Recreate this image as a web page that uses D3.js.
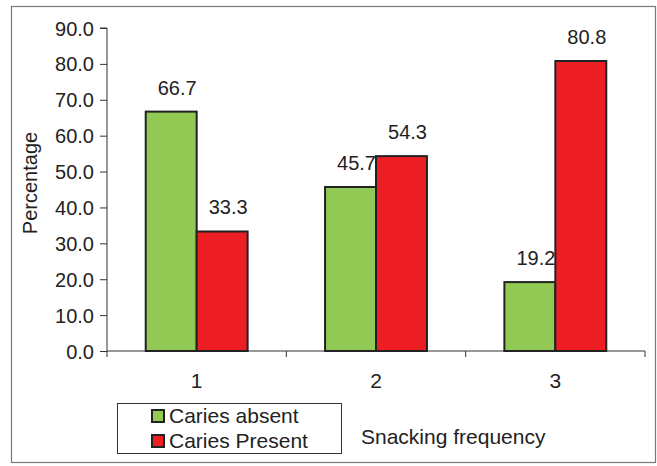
<!DOCTYPE html>
<html>
<head>
<meta charset="utf-8">
<script src="https://cdn.jsdelivr.net/npm/d3@7"></script>
<style>
  html, body { margin: 0; padding: 0; background: #fff; }
  svg { display: block; font-family: "Liberation Sans", Arial, sans-serif; }
</style>
</head>
<body>
<svg id="chart" width="657" height="466"></svg>
<script>
// Snacking frequency vs. caries status (percent of children)
const categories = ["1", "2", "3"];
const seriesNames = ["Caries absent", "Caries Present"];
const cariesAbsent = [66.7, 45.7, 19.2];
const cariesPresent = [33.3, 54.3, 80.8];
const yTicks = [0, 10, 20, 30, 40, 50, 60, 70, 80, 90];
const seriesColors = ["#92c955", "#ed1f24"];

const rows = categories.map((c, i) => ({
  cat: c,
  values: [cariesAbsent[i], cariesPresent[i]]
}));

const svg = d3.select("#chart");
const plot = { left: 107, right: 645, top: 28, bottom: 351 };

// Outer frame
svg.append("rect")
  .attr("x", 11.5).attr("y", 6.5)
  .attr("width", 644).attr("height", 456)
  .attr("fill", "none").attr("stroke", "#777").attr("stroke-width", 1.2);

const x0 = d3.scaleBand().domain(categories).range([plot.left, plot.right]).padding(0);
const x1 = d3.scaleBand().domain(d3.range(seriesNames.length))
  .range([0, x0.bandwidth()]).paddingInner(0).paddingOuter(0.76);
const y = d3.scaleLinear().domain([0, 90]).range([plot.bottom, plot.top]);

// Y axis
const yAxis = svg.append("g")
  .attr("transform", `translate(${plot.left},0)`)
  .call(d3.axisLeft(y).tickValues(yTicks).tickFormat(d3.format(".1f")).tickSize(7).tickPadding(6));
yAxis.select(".domain").attr("stroke", "#333").attr("d", `M-7,${y(90)}H0V${y(0)}`);
yAxis.selectAll(".tick line").attr("stroke", "#333");
yAxis.selectAll(".tick text")
  .attr("fill", "#222").style("font-size", "20px").attr("dy", "0.35em");

// X axis: band boundaries carry the ticks
const xAxis = svg.append("g").attr("transform", `translate(0,${plot.bottom})`);
xAxis.append("line")
  .attr("x1", plot.left).attr("x2", plot.right)
  .attr("stroke", "#333");
const bounds = categories.map(c => x0(c)).concat([x0(categories[categories.length - 1]) + x0.bandwidth()]);
xAxis.selectAll("line.tk").data(bounds).join("line")
  .attr("class", "tk")
  .attr("x1", d => d).attr("x2", d => d)
  .attr("y1", 0).attr("y2", 6)
  .attr("stroke", "#333");
xAxis.selectAll("text").data(categories).join("text")
  .attr("x", d => x0(d) + x0.bandwidth() / 2)
  .attr("y", 37)
  .attr("text-anchor", "middle")
  .attr("fill", "#222")
  .style("font-size", "21px")
  .text(d => d);

// Bars
const groups = svg.append("g").selectAll("g").data(rows).join("g")
  .attr("transform", d => `translate(${x0(d.cat)},0)`);
groups.selectAll("rect").data(d => d.values.map((v, i) => ({ v, i }))).join("rect")
  .attr("x", d => x1(d.i))
  .attr("y", d => y(d.v))
  .attr("width", x1.bandwidth())
  .attr("height", d => y(0) - y(d.v))
  .attr("fill", d => seriesColors[d.i])
  .attr("stroke", "#222")
  .attr("stroke-width", 2);

// Value labels
groups.selectAll("text").data(d => d.values.map((v, i) => ({ v, i }))).join("text")
  .attr("x", d => x1(d.i) + x1.bandwidth())
  .attr("y", d => y(d.v) - 17)
  .attr("text-anchor", "end")
  .attr("fill", "#222")
  .style("font-size", "20px")
  .text(d => d3.format(".1f")(d.v));

// Y axis title
svg.append("text")
  .attr("transform", `translate(37,183) rotate(-90)`)
  .attr("text-anchor", "middle")
  .attr("fill", "#222")
  .style("font-size", "20px")
  .text("Percentage");

// X axis title
svg.append("text")
  .attr("x", 361).attr("y", 444)
  .attr("fill", "#222")
  .style("font-size", "21px")
  .text("Snacking frequency");

// Legend
const legend = svg.append("g");
legend.append("rect")
  .attr("x", 117.5).attr("y", 403.5)
  .attr("width", 224).attr("height", 50)
  .attr("fill", "#fff").attr("stroke", "#333").attr("stroke-width", 1);
const items = legend.selectAll("g.item").data(seriesNames).join("g")
  .attr("class", "item")
  .attr("transform", (d, i) => `translate(0,${i * 25})`);
items.append("rect")
  .attr("x", 152).attr("y", 410)
  .attr("width", 12).attr("height", 12)
  .attr("fill", (d, i) => seriesColors[i])
  .attr("stroke", "#222").attr("stroke-width", 2);
items.append("text")
  .attr("x", 169).attr("y", 423)
  .attr("fill", "#222")
  .style("font-size", "21px")
  .text(d => d);
</script>
</body>
</html>
